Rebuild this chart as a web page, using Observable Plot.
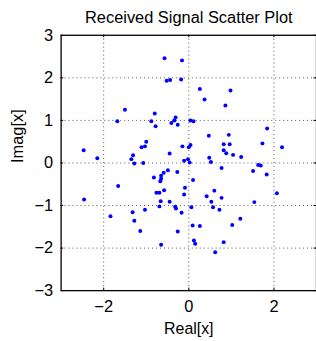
<!DOCTYPE html>
<html>
<head>
<meta charset="utf-8">
<script src="https://cdn.jsdelivr.net/npm/d3@7"></script>
<script src="https://cdn.jsdelivr.net/npm/@observablehq/plot@0.6"></script>
<style>
  html, body { margin: 0; padding: 0; background: #fff; overflow: hidden; }
  svg { display: block; }
</style>
</head>
<body>
<div id="chart"></div>
<script>
const title = "Received Signal Scatter Plot";
const xLabel = "Real[x]";
const yLabel = "Imag[x]";
const xTicks = [-2, 0, 2];
const yTicks = [-3, -2, -1, 0, 1, 2, 3];
const realPart = [-0.57,-0.16,-0.52,-0.44,-0.18,0.26,0.37,0.98,0.86,-1.50,-0.80,-1.68,-0.88,-0.78,-0.31,-0.34,-0.41,-0.26,0.04,0.11,0.47,0.94,1.84,0.82,0.96,1.73,2.19,-1.00,-1.03,-1.11,-0.15,0.00,0.04,-0.45,0.82,0.88,1.04,1.23,0.48,0.52,-0.02,-0.11,0.02,-2.47,-2.15,-1.31,-1.35,-1.28,-1.07,0.77,1.51,1.63,1.69,1.83,-0.49,-0.59,-0.27,-0.65,-0.82,-0.65,-0.67,-1.66,0.10,-0.09,-0.58,-0.76,-0.69,-0.11,0.60,0.42,0.77,2.07,-2.46,-0.66,-0.45,0.53,1.54,-0.69,-0.32,-0.30,0.06,0.57,0.72,-1.03,-1.32,-0.17,-1.84,-1.28,0.09,0.26,1.02,1.21,-1.14,-0.26,0.12,0.15,0.82,-0.65,0.62];
const imagPart = [2.46,2.41,1.93,1.95,1.96,1.74,1.49,1.70,1.35,1.25,1.16,0.98,0.98,0.86,1.07,1.00,0.94,0.90,1.00,0.98,0.64,0.66,0.81,0.44,0.44,0.46,0.37,0.50,0.39,0.37,0.39,0.37,0.42,0.22,0.30,0.23,0.19,0.14,0.12,0.02,0.09,0.05,0.01,0.30,0.11,0.18,0.09,-0.01,0.00,-0.12,-0.19,-0.05,-0.06,-0.27,-0.17,-0.23,-0.21,-0.30,-0.34,-0.37,-0.43,-0.54,-0.40,-0.58,-0.64,-0.70,-0.70,-0.74,-0.65,-0.78,-0.82,-0.71,-0.86,-0.90,-0.91,-0.91,-0.92,-1.02,-1.03,-1.07,-1.04,-1.04,-1.10,-1.10,-1.16,-1.17,-1.25,-1.36,-1.47,-1.48,-1.46,-1.31,-1.60,-1.61,-1.82,-1.90,-1.86,-1.92,-2.10];

const points = realPart.map((re, i) => ({re, im: imagPart[i]}));
const font = "'Liberation Sans', Arial, Helvetica, sans-serif";
const fmt = d => String(d).replace("-", "\u2212");

const chart = Plot.plot({
  width: 318,
  height: 341,
  marginTop: 35,
  marginBottom: 49,
  marginLeft: 61,
  marginRight: 0,
  style: {fontFamily: font, fontSize: "16px", background: "#fff", overflow: "visible"},
  x: {domain: [-3, 3], ticks: xTicks, tickFormat: fmt},
  y: {domain: [-3, 3], ticks: yTicks, tickFormat: fmt},
  marks: [
    Plot.ruleX(xTicks, {x: d => d, y1: -3, y2: 3, stroke: "#555", strokeWidth: 1, strokeDasharray: "1,3"}),
    Plot.ruleY(yTicks.filter(d => d > -3 && d < 3), {y: d => d, x1: -3, x2: 3, stroke: "#555", strokeWidth: 1, strokeDasharray: "1,3"}),
    Plot.ruleX(xTicks, {x: d => d, y1: -3, y2: -2.94, stroke: "#000"}),
    Plot.ruleX(xTicks, {x: d => d, y1: 3, y2: 2.94, stroke: "#000"}),
    Plot.ruleY(yTicks, {y: d => d, x1: -3, x2: -2.94, stroke: "#000"}),
    Plot.ruleY(yTicks, {y: d => d, x1: 3, x2: 2.94, stroke: "#000"}),
    Plot.frame({stroke: "#000", strokeWidth: 1.3}),
    Plot.dot(points, {x: "re", y: "im", r: 2, fill: "#0000ff", stroke: null}),
    Plot.axisX(xTicks, {tickSize: 0, tickPadding: 10, fontSize: 16.5, fill: "#000", label: null}),
    Plot.axisY(yTicks, {tickSize: 0, tickPadding: 8, fontSize: 16.5, fill: "#000", label: null}),
    Plot.text([xLabel], {frameAnchor: "bottom", dy: 44, text: d => d, fontSize: 16, fill: "#000"}),
    Plot.text([yLabel], {frameAnchor: "left", dx: -44, rotate: -90, text: d => d, fontSize: 16.5, fill: "#000"}),
    Plot.text([title], {frameAnchor: "top", dy: -24, text: d => d, fontSize: 16.5, fill: "#000"})
  ]
});
document.getElementById("chart").appendChild(chart);
</script>
</body>
</html>
